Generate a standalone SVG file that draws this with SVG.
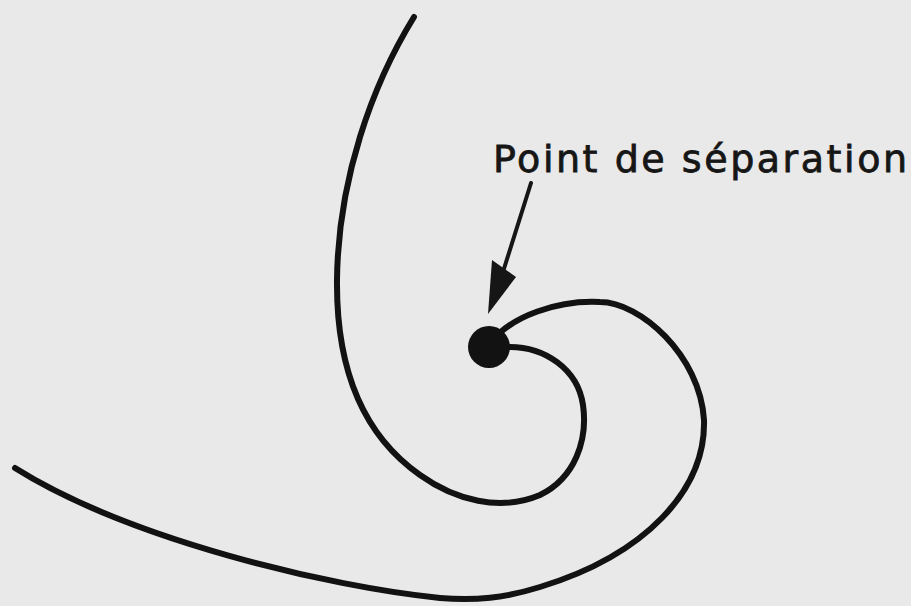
<svg xmlns="http://www.w3.org/2000/svg" width="911" height="606" viewBox="0 0 911 606">
  <style>
    .curve { fill: none; stroke: #121212; stroke-width: 6; stroke-linecap: round; stroke-linejoin: round; }
    .label { font-family: "DejaVu Sans", "Liberation Sans", sans-serif; font-size: 38px; fill: #161616; stroke: #161616; stroke-width: 0.8; }
    .shaft { fill: none; stroke: #161616; stroke-width: 4; stroke-linecap: round; }
  </style>
  <rect x="0" y="0" width="911" height="606" fill="#e9e9e9"/>
  <g id="inner-curve">
    <path class="curve" d="M 414 17 C 372 85, 338 180, 337 280 C 336 380, 370 440, 420 475 C 455 500, 500 512, 540 495 C 575 478, 588 440, 583 405 C 578 370, 545 345, 505 347"/>
  </g>
  <g id="outer-curve">
    <path class="curve" d="M 489 345 C 510 315, 560 300, 600 302 C 640 302, 700 355, 704 420 C 706 490, 645 555, 540 587 C 505 598, 475 601, 440 598 C 330 587, 130 540, 15 468"/>
  </g>
  <g id="separation-point">
    <circle cx="489" cy="347" r="21" fill="#121212"/>
  </g>
  <g id="label">
    <text class="label" x="493" y="172" textLength="414" lengthAdjust="spacing">Point de séparation</text>
  </g>
  <g id="connectors">
    <line class="shaft" x1="531" y1="183" x2="502" y2="275"/>
    <polygon points="488,314 492,260 516,277" fill="#161616"/>
  </g>
</svg>
